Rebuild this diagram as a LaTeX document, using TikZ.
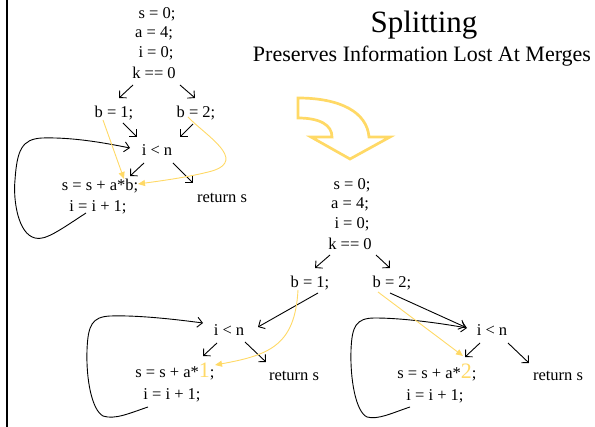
\documentclass[tikz,border=0pt]{standalone}
\usepackage{fontspec}
\setmainfont{Liberation Serif}
\usetikzlibrary{arrows.meta}
\definecolor{gold}{RGB}{255,217,102}
\newcommand{\codefont}{\fontsize{16.5}{20}\selectfont}
\newcommand{\hl}[1]{{\fontsize{22}{22}\selectfont\textcolor{gold}{#1}}}
\tikzset{
  code/.style={font=\codefont, inner sep=0pt, anchor=base},
  arr/.style={line width=0.9pt, -{Straight Barb[length=5pt,width=10pt]}},
  flow/.style={draw=gold, line width=0.9pt, -{Triangle[length=7pt,width=6pt,fill=gold]}},
}
\begin{document}
\begin{tikzpicture}[x=1pt,y=-1pt]
\useasboundingbox (0,0) rectangle (595,427);
% left rule
\draw[line width=2.3pt] (7,0) -- (7,427);

% headings
\node[font=\fontsize{31}{31}\selectfont, inner sep=0pt, anchor=base] (title) at (424,33) {Splitting};
\node[font=\fontsize{22}{22}\selectfont, inner sep=0pt, anchor=base] (sub) at (422,62) {Preserves Information Lost At Merges};

% big curved arrow
\draw[gold, line width=2.7pt, line join=miter]
  (298,98) -- (298,118)
  .. controls (320,118) and (332,125) .. (332,137)
  -- (311,137) -- (350,159) -- (390,137) -- (369,137)
  .. controls (367,112) and (340,98) .. (298,98) -- cycle;

% ---------- original loop ----------
\node[code] (s1) at (157,19) {s = 0;};
\node[code] (a1) at (154,38) {a = 4;};
\node[code] (i1) at (156,58) {i = 0;};
\node[code] (k1) at (154,79) {k == 0};
\node[code] (b1) at (114,118) {b = 1;};
\node[code] (b2) at (196,118) {b = 2;};
\node[code] (c1) at (157,156) {i < n};
\node[code] (u1) at (100,191) {s = s + a*b;};
\node[code] (v1) at (98,212) {i = i + 1;};
\node[code] (r1) at (222,203) {return s};

\draw[arr] ([shift={(-21,6)}]k1.base) -- ([shift={(5,-20)}]b1.base);
\draw[arr] ([shift={(26,6)}]k1.base) -- ([shift={(-1,-20)}]b2.base);
\draw[arr] ([shift={(9,5)}]b1.base) -- ([shift={(-20,-19)}]c1.base);
\draw[arr] ([shift={(-3,6)}]b2.base) -- ([shift={(23,-19)}]c1.base);
\draw[arr] ([shift={(-13,7)}]c1.base) -- ([shift={(30,-15)}]u1.base);
\draw[arr] ([shift={(16,7)}]c1.base) -- ([shift={(-29,-20)}]r1.base);
\draw[arr] ([shift={(-12,1)}]v1.base)
  .. controls (60,230) and (45,241) .. (35,238)
  .. controls (18,234) and (13,200) .. (15,180)
  .. controls (17,150) and (22,139) .. (42,138)
  .. controls (75,137) and (110,144) .. ([shift={(-27,-8)}]c1.base);
\draw[flow] ([shift={(-11,2)}]b1.base) -- ([shift={(24,-12)}]u1.base);
\draw[flow] ([shift={(-8,-1)}]b2.base)
  .. controls (205,135) and (248,160) .. (212,171)
  .. controls (190,177) and (160,181) .. ([shift={(38,-7)}]u1.base);

% ---------- split version ----------
\node[code] (s2) at (352,190) {s = 0;};
\node[code] (a2) at (350,209) {a = 4;};
\node[code] (i2) at (352,229) {i = 0;};
\node[code] (k2) at (350,250) {k == 0};
\node[code] (b12) at (310,288) {b = 1;};
\node[code] (b22) at (392,288) {b = 2;};

\draw[arr] ([shift={(-20,5)}]k2.base) -- ([shift={(5,-20)}]b12.base);
\draw[arr] ([shift={(26,5)}]k2.base) -- ([shift={(-2,-20)}]b22.base);

% path through b = 1
\node[code] (c2) at (229,336) {i < n};
\node[code] (u2) at (175,378) {s = s + a*\hl{1};};
\node[code] (v2) at (172,400) {i = i + 1;};
\node[code] (r2) at (294,381) {return s};

\draw[arr] ([shift={(8,5)}]b12.base) -- ([shift={(29,-9)}]c2.base);
\draw[arr] ([shift={(-12,7)}]c2.base) -- ([shift={(28,-22)}]u2.base);
\draw[arr] ([shift={(16,6)}]c2.base) -- ([shift={(-28,-19)}]r2.base);
\draw[arr] ([shift={(-24,7)}]v2.base)
  .. controls (130,413) and (115,420) .. (103,416)
  .. controls (92,410) and (86,380) .. (87,350)
  .. controls (88,325) and (92,317) .. (110,316)
  .. controls (140,315) and (180,320) .. ([shift={(-26,-13)}]c2.base);
\draw[flow] ([shift={(-12,2)}]b12.base)
  .. controls (295,345) and (270,355) .. ([shift={(40,-13)}]u2.base);

% path through b = 2
\node[code] (c3) at (492,336) {i < n};
\node[code] (u3) at (437,379) {s = s + a*\hl{2};};
\node[code] (v3) at (435,401) {i = i + 1;};
\node[code] (r3) at (558,381) {return s};

\draw[arr] ([shift={(-2,5)}]b22.base) -- ([shift={(-27,-9)}]c3.base);
\draw[arr] ([shift={(-12,7)}]c3.base) -- ([shift={(28,-22)}]u3.base);
\draw[arr] ([shift={(16,7)}]c3.base) -- ([shift={(-29,-18)}]r3.base);
\draw[arr] ([shift={(-25,6)}]v3.base)
  .. controls (392,413) and (378,420) .. (367,417)
  .. controls (356,412) and (350,380) .. (351,350)
  .. controls (352,326) and (356,318) .. (375,318)
  .. controls (405,318) and (445,324) .. ([shift={(-25,-8)}]c3.base);
\draw[flow] ([shift={(-14,4)}]b22.base) -- ([shift={(26,-23)}]u3.base);
\end{tikzpicture}
\end{document}
